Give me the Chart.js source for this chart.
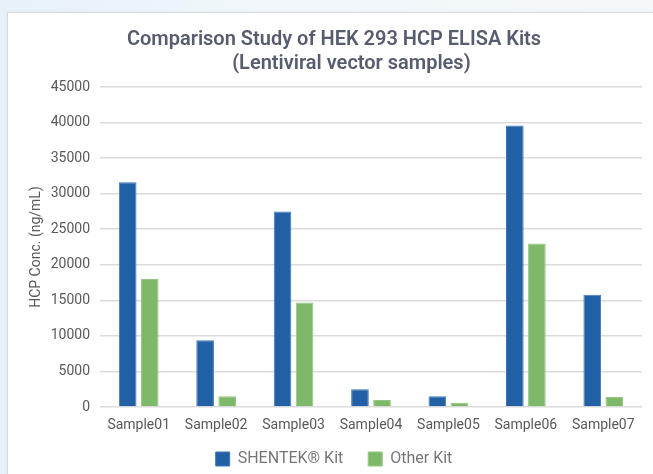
<!DOCTYPE html>
<html>
<head>
<meta charset="utf-8">
<script src="https://cdn.jsdelivr.net/npm/chart.js@4/dist/chart.umd.min.js"></script>
<style>
  html, body { margin: 0; padding: 0; }
  body { width: 653px; height: 474px; overflow: hidden; position: relative;
         background: linear-gradient(90deg, #e6f1f8 0%, #f1f7fb 40%, #f4f8fb 100%); }
  #card { position: absolute; left: 7px; top: 12px; width: 660px; height: 480px;
          background: #ffffff; border: 1px solid #d8dadd; box-shadow: 0 0 3px rgba(0,0,0,0.06); }
  #wrap { position: absolute; left: 0; top: 0; width: 653px; height: 474px; }
</style>
</head>
<body>
<div id="card"></div>
<div id="wrap"><canvas id="c" width="653" height="474"></canvas></div>
<script>
const categories = ["Sample01", "Sample02", "Sample03", "Sample04", "Sample05", "Sample06", "Sample07"];
const shentekValues = [31600, 9400, 27500, 2500, 1500, 39600, 15800];
const otherValues = [18000, 1500, 14700, 1000, 600, 23000, 1400];
const seriesNames = ["SHENTEK\u00AE Kit", "Other Kit"];
const titleLines = ["Comparison Study of HEK 293 HCP ELISA Kits", "       (Lentiviral vector samples)"];
const yAxisTitle = "HCP Conc. (ng/mL)";

const FONT = "Roboto, 'Open Sans', sans-serif";

new Chart(document.getElementById('c'), {
  type: 'bar',
  data: {
    labels: categories,
    datasets: [
      { label: seriesNames[0], data: shentekValues, backgroundColor: '#2160a5',
        borderColor: '#3f78b8', borderWidth: 1, categoryPercentage: 0.57, barPercentage: 0.8 },
      { label: seriesNames[1], data: otherValues, backgroundColor: '#7eb96a',
        borderColor: '#94c683', borderWidth: 1, categoryPercentage: 0.57, barPercentage: 0.8 }
    ]
  },
  options: {
    responsive: false,
    animation: false,
    devicePixelRatio: 1,
    layout: { padding: { left: 26, right: 11, top: 0, bottom: -3 } },
    plugins: {
      title: {
        display: true,
        text: titleLines,
        color: '#575c6e',
        font: { family: FONT, size: 20, weight: '600', lineHeight: 1.2 },
        padding: { top: 28, bottom: 11 }
      },
      legend: {
        position: 'bottom',
        labels: {
          color: '#767676',
          font: { family: FONT, size: 16 },
          boxWidth: 14, boxHeight: 14,
          padding: 17,
          generateLabels: (chart) => {
            const items = Chart.defaults.plugins.legend.labels.generateLabels(chart);
            items.forEach((it, i) => { if (i < items.length - 1) it.text = it.text + '  '; });
            return items;
          }
        }
      },
      tooltip: { enabled: false }
    },
    scales: {
      x: {
        afterFit: (s) => { s.height = 27; },
        grid: { display: false, drawTicks: false },
        border: { display: false },
        ticks: { color: '#595959', font: { family: FONT, size: 14 }, padding: 10, maxRotation: 0 }
      },
      y: {
        min: 0, max: 45000,
        afterFit: (s) => { s.width = 74; },
        grid: { color: '#dcdcdc', lineWidth: 1.5, drawTicks: false },
        border: { display: false },
        ticks: { stepSize: 5000, color: '#595959', font: { family: FONT, size: 14 }, padding: 10,
                 callback: (v) => String(v) },
        title: { display: true, text: yAxisTitle, color: '#595959',
                 font: { family: FONT, size: 14 }, padding: { top: 2, bottom: 0 } }
      }
    }
  }
});
</script>
</body>
</html>
